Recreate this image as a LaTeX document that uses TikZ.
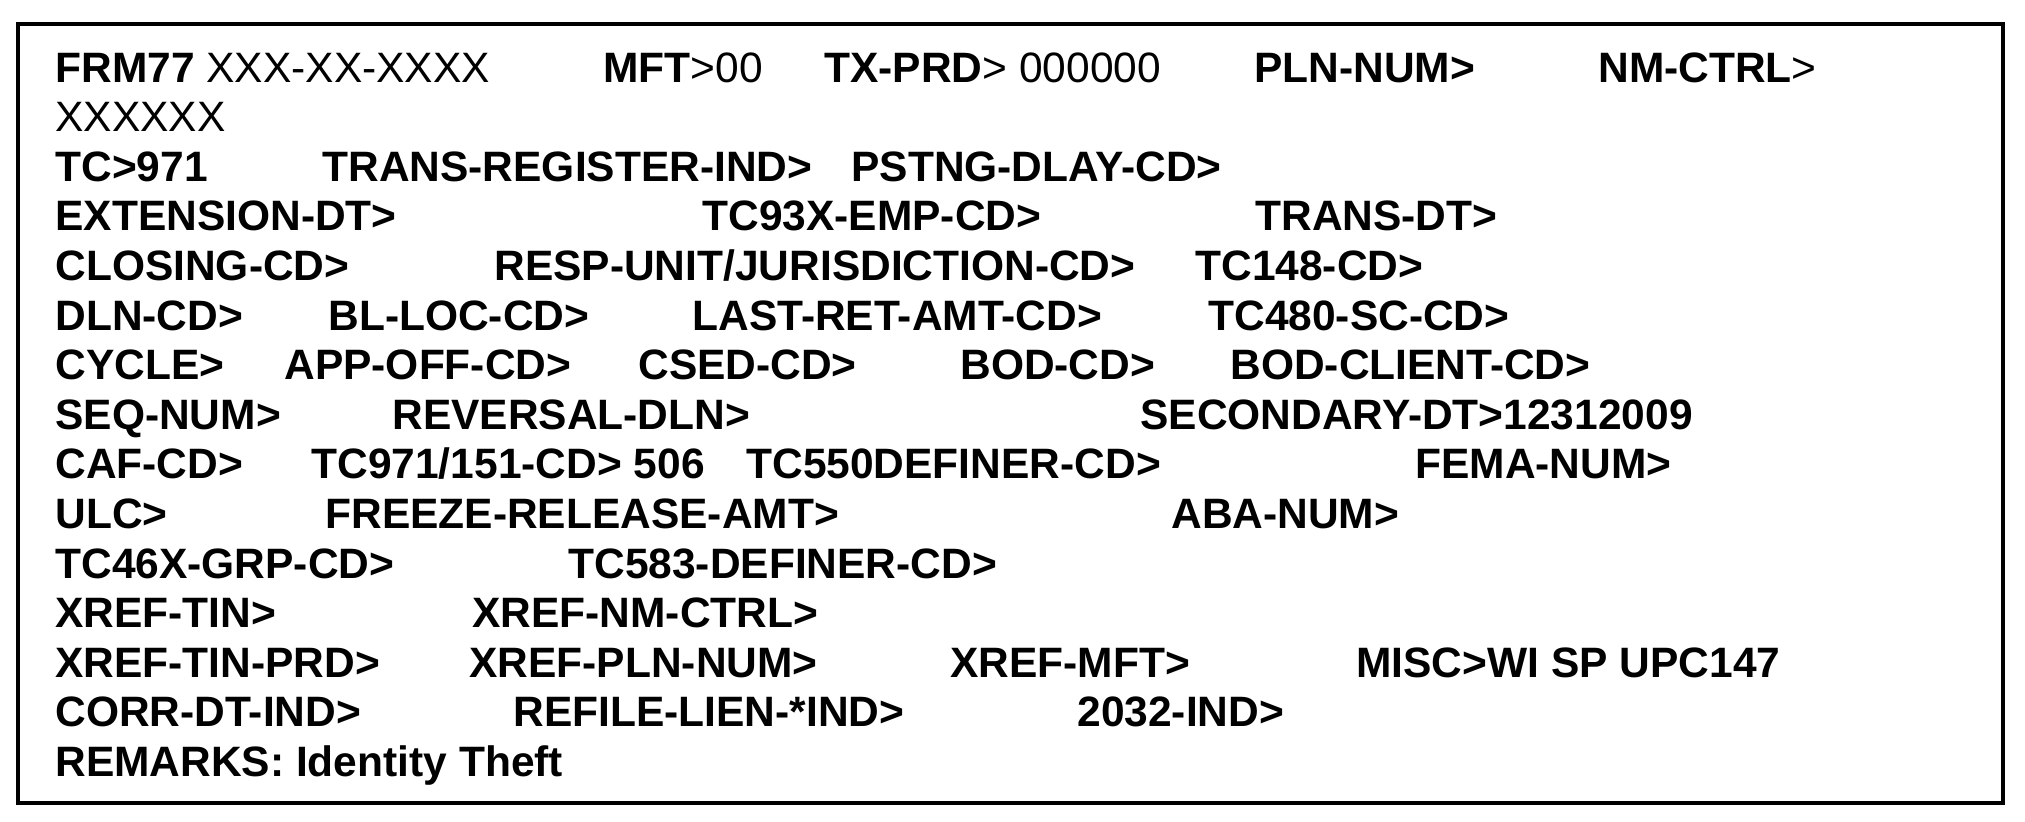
\documentclass[tikz,border=0pt]{standalone}
\usepackage{fontspec}
\setmainfont{Liberation Sans}
\begin{document}
\begin{tikzpicture}[x=0.5pt, y=-0.5pt,
    fld/.style = {anchor=base west, inner sep=0pt, font=\fontsize{21.25}{24}\bfseries}]
\useasboundingbox (0,0) rectangle (2025,821);
\draw[line width=1.75pt] (18,24) rectangle (2003,803);
% line 1
\node[fld] (frm)    at (55,82)   {FRM77 \mdseries XXX-XX-XXXX};
\node[fld] (mft)    at (603,82)  {MFT\mdseries>00};
\node[fld] (txprd)  at (824,82)  {TX-PRD\mdseries> 000000};
\node[fld] (plnnum) at (1254,82) {PLN-NUM>};
\node[fld] (nmctrl) at (1598,82) {NM-CTRL\mdseries>};
% line 2
\node[fld] (nmval)  at (55,131.6) {\mdseries XXXXXX};
% line 3
\node[fld] (tc)     at (55,181.2)  {TC>971};
\node[fld] (trreg)  at (322,181.2) {TRANS-REGISTER-IND>};
\node[fld] (pstng)  at (851,181.2) {PSTNG-DLAY-CD>};
% line 4
\node[fld] (extdt)  at (55,230.8)   {EXTENSION-DT>};
\node[fld] (tcemp)  at (702,230.8)  {TC93X-EMP-CD>};
\node[fld] (trdt)   at (1255,230.8) {TRANS-DT>};
% line 5
\node[fld] (clos)   at (55,280.4)   {CLOSING-CD>};
\node[fld] (resp)   at (494,280.4)  {RESP-UNIT/JURISDICTION-CD>};
\node[fld] (tcone)  at (1195,280.4) {TC148-CD>};
% line 6
\node[fld] (dln)    at (55,330)   {DLN-CD>};
\node[fld] (blloc)  at (328,330)  {BL-LOC-CD>};
\node[fld] (lastret) at (692,330) {LAST-RET-AMT-CD>};
\node[fld] (tcsc)   at (1208,330) {TC480-SC-CD>};
% line 7
\node[fld] (cyc)    at (55,379.6)   {CYCLE>};
\node[fld] (appoff) at (284,379.6)  {APP-OFF-CD>};
\node[fld] (csed)   at (638,379.6)  {CSED-CD>};
\node[fld] (bod)    at (960,379.6)  {BOD-CD>};
\node[fld] (bodcl)  at (1230,379.6) {BOD-CLIENT-CD>};
% line 8
\node[fld] (seq)    at (55,429.2)   {SEQ-NUM>};
\node[fld] (revdln) at (392,429.2)  {REVERSAL-DLN>};
\node[fld] (secdt)  at (1140,429.2) {SECONDARY-DT>12312009};
% line 9
\node[fld] (caf)    at (55,478.8)   {CAF-CD>};
\node[fld] (tcnine) at (311,478.8)  {TC971/151-CD> 506};
\node[fld] (tcdef)  at (746,478.8)  {TC550DEFINER-CD>};
\node[fld] (fema)   at (1415,478.8) {FEMA-NUM>};
% line 10
\node[fld] (ulc)    at (55,528.4)   {ULC>};
\node[fld] (freeze) at (325,528.4)  {FREEZE-RELEASE-AMT>};
\node[fld] (aba)    at (1171,528.4) {ABA-NUM>};
% line 11
\node[fld] (grp)    at (55,578)  {TC46X-GRP-CD>};
\node[fld] (tcfive) at (568,578) {TC583-DEFINER-CD>};
% line 12
\node[fld] (xtin)   at (55,627.6)  {XREF-TIN>};
\node[fld] (xnm)    at (472,627.6) {XREF-NM-CTRL>};
% line 13
\node[fld] (xprd)   at (55,677.2)   {XREF-TIN-PRD>};
\node[fld] (xpln)   at (469,677.2)  {XREF-PLN-NUM>};
\node[fld] (xmft)   at (950,677.2)  {XREF-MFT>};
\node[fld] (misc)   at (1356,677.2) {MISC>WI SP UPC147};
% line 14
\node[fld] (corr)   at (55,726.8)   {CORR-DT-IND>};
\node[fld] (refile) at (513,726.8)  {REFILE-LIEN-*IND>};
\node[fld] (ind)    at (1077,726.8) {2032-IND>};
% line 15
\node[fld] (rem)    at (55,776.4) {REMARKS: Identity Theft};
\end{tikzpicture}
\end{document}
